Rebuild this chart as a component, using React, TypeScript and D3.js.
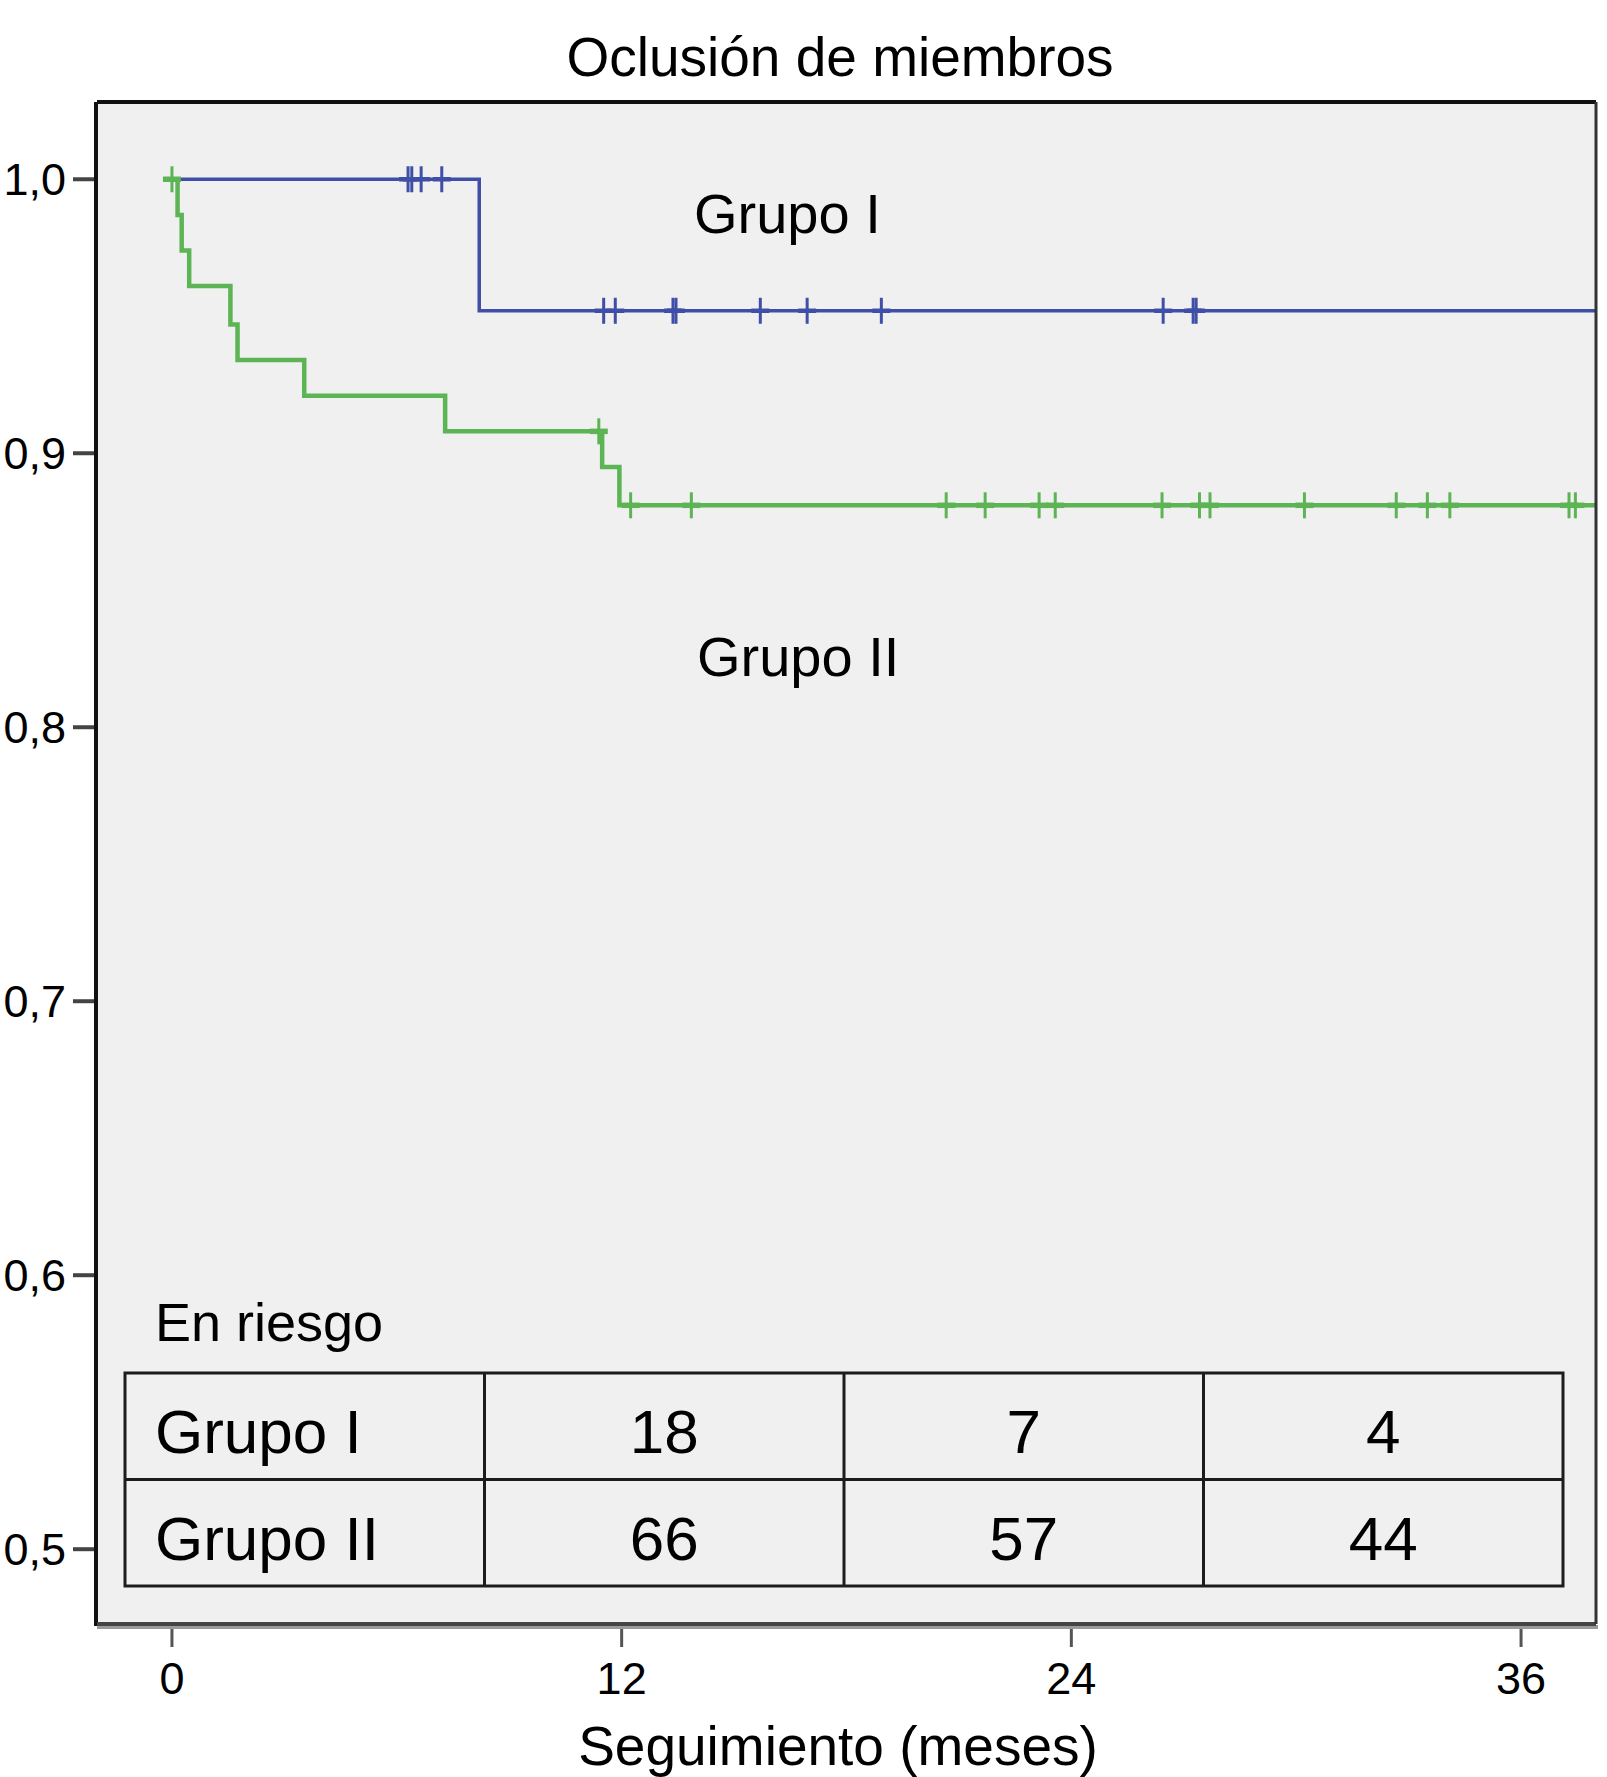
import React, { useEffect, useRef } from 'react';
import * as d3 from 'd3';

const W = 1607;
const H = 1777;

// Kaplan-Meier steps (months, survival)
const grupo1Times = [0, 8.2];
const grupo1Surv = [1.0, 0.952];
const grupo1Censored = [6.3, 6.4, 6.65, 7.2, 11.52, 11.83, 13.37, 13.45, 15.7, 16.95, 18.93, 26.45, 27.25, 27.33];

const grupo2Times = [0, 0.15, 0.26, 0.46, 1.56, 1.75, 3.53, 7.29, 11.48, 11.94];
const grupo2Surv = [1.0, 0.987, 0.974, 0.961, 0.947, 0.934, 0.921, 0.908, 0.895, 0.881];
const grupo2Censored = [0, 11.39, 12.24, 13.86, 20.66, 21.7, 23.14, 23.57, 26.42, 27.42, 27.7, 30.22, 32.67, 33.5, 34.1, 37.28, 37.45];

const maxTime = 38;
const xTicks = [0, 12, 24, 36];
const yTicks = [0.5, 0.6, 0.7, 0.8, 0.9, 1.0];

// "En riesgo" table
const riskGroups = ['Grupo I', 'Grupo II'];
const riskGrupo1 = [18, 7, 4];
const riskGrupo2 = [66, 57, 44];

const blue = '#3f4ea6';
const green = '#5cb454';
const font = '"Liberation Sans", Arial, sans-serif';

const App: React.FC = () => {
	const ref = useRef<SVGSVGElement>(null);

	useEffect(() => {
		const svg = d3.select(ref.current);
		svg.selectAll('*').remove();

		// frame of the plot area
		const frame = { left: 97, top: 102, right: 1596, bottom: 1624 };

		const x = d3.scaleLinear().domain([-2, 38]).range([frame.left, frame.right]);
		const y = d3.scaleLinear().domain([0.4727, 1.0282]).range([frame.bottom, frame.top]);

		svg.append('rect').attr('width', W).attr('height', H).attr('fill', '#ffffff');

		svg.append('rect')
			.attr('x', frame.left)
			.attr('y', frame.top)
			.attr('width', frame.right - frame.left)
			.attr('height', frame.bottom - frame.top)
			.attr('fill', '#f0f0f0');

		// title
		svg.append('text')
			.attr('x', 840)
			.attr('y', 76)
			.attr('text-anchor', 'middle')
			.attr('font-family', font)
			.attr('font-size', 55)
			.text('Oclusión de miembros');

		// y axis ticks + labels
		const yFmt = (d: number) => d3.format('.1f')(d).replace('.', ',');
		yTicks.forEach((d) => {
			svg.append('line')
				.attr('x1', 73)
				.attr('x2', frame.left)
				.attr('y1', y(d))
				.attr('y2', y(d))
				.attr('stroke', '#444')
				.attr('stroke-width', 4);
			svg.append('text')
				.attr('x', 66)
				.attr('y', y(d) + 16)
				.attr('text-anchor', 'end')
				.attr('font-family', font)
				.attr('font-size', 45)
				.text(yFmt(d));
		});

		// x axis ticks + labels
		xTicks.forEach((d) => {
			svg.append('line')
				.attr('x1', x(d))
				.attr('x2', x(d))
				.attr('y1', frame.bottom + 3)
				.attr('y2', frame.bottom + 23)
				.attr('stroke', '#555')
				.attr('stroke-width', 3);
			svg.append('text')
				.attr('x', x(d))
				.attr('y', 1694)
				.attr('text-anchor', 'middle')
				.attr('font-family', font)
				.attr('font-size', 45)
				.text(String(d));
		});

		svg.append('text')
			.attr('x', 838)
			.attr('y', 1765)
			.attr('text-anchor', 'middle')
			.attr('font-family', font)
			.attr('font-size', 55)
			.text('Seguimiento (meses)');

		// survival curves
		const stepLine = d3
			.line<[number, number]>()
			.x((d) => x(d[0]))
			.y((d) => y(d[1]))
			.curve(d3.curveStepAfter);

		const survAt = (times: number[], surv: number[], t: number) => {
			let s = surv[0];
			times.forEach((tt, i) => {
				if (tt <= t) s = surv[i];
			});
			return s;
		};

		const drawCurve = (times: number[], surv: number[], censored: number[], color: string, width: number) => {
			const pts: [number, number][] = times.map((t, i) => [t, surv[i]]);
			pts.push([maxTime, surv[surv.length - 1]]);
			svg.append('path')
				.attr('d', stepLine(pts))
				.attr('fill', 'none')
				.attr('stroke', color)
				.attr('stroke-width', width);

			const g = svg.append('g').attr('stroke', color).attr('stroke-width', 3);
			censored.forEach((t) => {
				const cx = x(t);
				const cy = y(survAt(times, surv, t));
				g.append('line').attr('x1', cx).attr('x2', cx).attr('y1', cy - 13).attr('y2', cy + 13);
				g.append('line').attr('x1', cx - 9).attr('x2', cx + 9).attr('y1', cy).attr('y2', cy).attr('stroke-width', width + 1);
			});
		};

		drawCurve(grupo1Times, grupo1Surv, grupo1Censored, blue, 3.5);
		drawCurve(grupo2Times, grupo2Surv, grupo2Censored, green, 4.5);

		// curve labels
		svg.append('text')
			.attr('x', 694)
			.attr('y', 233)
			.attr('font-family', font)
			.attr('font-size', 56)
			.text('Grupo I');
		svg.append('text')
			.attr('x', 697)
			.attr('y', 676)
			.attr('font-family', font)
			.attr('font-size', 56)
			.text('Grupo II');

		// at-risk table
		svg.append('text')
			.attr('x', 155)
			.attr('y', 1341)
			.attr('font-family', font)
			.attr('font-size', 54)
			.text('En riesgo');

		const table = { left: 125, top: 1373, right: 1563, bottom: 1586 };
		const colX = d3.scaleLinear().domain([0, 4]).range([table.left, table.right]);
		const rowY = d3.scaleLinear().domain([0, 2]).range([table.top, table.bottom]);

		const tg = svg.append('g').attr('stroke', '#1c1c1c').attr('stroke-width', 3);
		tg.append('rect')
			.attr('x', table.left)
			.attr('y', table.top)
			.attr('width', table.right - table.left)
			.attr('height', table.bottom - table.top)
			.attr('fill', 'none');
		[1, 2, 3].forEach((c) => {
			tg.append('line').attr('x1', colX(c)).attr('x2', colX(c)).attr('y1', table.top).attr('y2', table.bottom);
		});
		tg.append('line').attr('x1', table.left).attr('x2', table.right).attr('y1', rowY(1)).attr('y2', rowY(1));

		const rows = [riskGrupo1, riskGrupo2];
		rows.forEach((vals, r) => {
			const cy = (rowY(r) + rowY(r + 1)) / 2 + 27;
			svg.append('text')
				.attr('x', 155)
				.attr('y', cy)
				.attr('font-family', font)
				.attr('font-size', 62)
				.text(riskGroups[r]);
			vals.forEach((v, c) => {
				svg.append('text')
					.attr('x', (colX(c + 1) + colX(c + 2)) / 2)
					.attr('y', cy)
					.attr('text-anchor', 'middle')
					.attr('font-family', font)
					.attr('font-size', 62)
					.text(String(v));
			});
		});

		// frame edges: dark left/top, shadowed bottom/right
		svg.append('line')
			.attr('x1', frame.left)
			.attr('x2', frame.right)
			.attr('y1', frame.top)
			.attr('y2', frame.top)
			.attr('stroke', '#111')
			.attr('stroke-width', 4);
		svg.append('line')
			.attr('x1', frame.left - 1)
			.attr('x2', frame.left - 1)
			.attr('y1', frame.top)
			.attr('y2', frame.bottom + 2)
			.attr('stroke', '#111')
			.attr('stroke-width', 4);
		svg.append('line')
			.attr('x1', frame.left)
			.attr('x2', frame.right + 2)
			.attr('y1', frame.bottom + 3)
			.attr('y2', frame.bottom + 3)
			.attr('stroke', '#9a9a9a')
			.attr('stroke-width', 4);
		svg.append('line')
			.attr('x1', frame.left)
			.attr('x2', frame.right)
			.attr('y1', frame.bottom)
			.attr('y2', frame.bottom)
			.attr('stroke', '#444')
			.attr('stroke-width', 4);
		svg.append('line')
			.attr('x1', frame.right)
			.attr('x2', frame.right)
			.attr('y1', frame.top)
			.attr('y2', frame.bottom)
			.attr('stroke', '#333')
			.attr('stroke-width', 3);
	}, []);

	return (
		<svg
			ref={ref}
			width={W}
			height={H}
			style={{ position: 'absolute', left: 0, top: 0, display: 'block' }}
		/>
	);
};

export default App;
